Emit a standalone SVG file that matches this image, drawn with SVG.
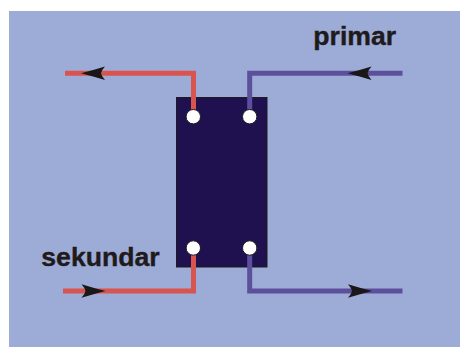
<svg xmlns="http://www.w3.org/2000/svg" width="460" height="347" viewBox="0 0 460 347">
<style>
.lbl{font-family:"Liberation Sans",Arial,sans-serif;font-weight:700;font-size:26.6px;fill:#1f1a1c;stroke:#1f1a1c;stroke-width:.4}
.red{fill:none;stroke:#d9534f;stroke-width:5}
.pur{fill:none;stroke:#5c4f9c;stroke-width:5}
.port{fill:#fff;stroke:#1f1a1c;stroke-width:1}
.head{fill:#1a1718}
</style>
<defs>
<path id="h" d="M0 0Q-13 -3.4 -24 -6.8Q-20.5 -3 -20 0Q-20.5 3 -24 6.8Q-13 3.4 0 0Z"/>
</defs>
<rect width="460" height="347" fill="#fff"/>
<rect x="9" y="11" width="451" height="336" fill="#9dacd6"/>
<g id="exchanger"><rect x="176.5" y="97.5" width="90.5" height="169.5" fill="#1f114f" stroke="#1f1a1c" stroke-width="1"/></g>
<g id="connectors">
<path class="red" d="M65 73.3H193.5V112"/>
<path class="red" d="M63 291H193.5V252"/>
<path class="pur" d="M402.5 73.3H249.7V112"/>
<path class="pur" d="M402.5 291H249.7V252"/>
<use href="#h" class="head" transform="translate(81 73.3) rotate(180)"/>
<use href="#h" class="head" transform="translate(347.5 73.3) rotate(180)"/>
<use href="#h" class="head" transform="translate(105.5 291)"/>
<use href="#h" class="head" transform="translate(372 291)"/>
</g>
<g id="port-tl"><circle class="port" cx="193.3" cy="116.7" r="7.2"/></g>
<g id="port-tr"><circle class="port" cx="249.7" cy="116.7" r="7.2"/></g>
<g id="port-bl"><circle class="port" cx="193.3" cy="248" r="7.2"/></g>
<g id="port-br"><circle class="port" cx="249.7" cy="248" r="7.2"/></g>
<g id="label-primar"><text class="lbl" x="313.3" y="45">primar</text></g>
<g id="label-sekundar"><text class="lbl" x="41.3" y="266">sekundar</text></g>
</svg>
